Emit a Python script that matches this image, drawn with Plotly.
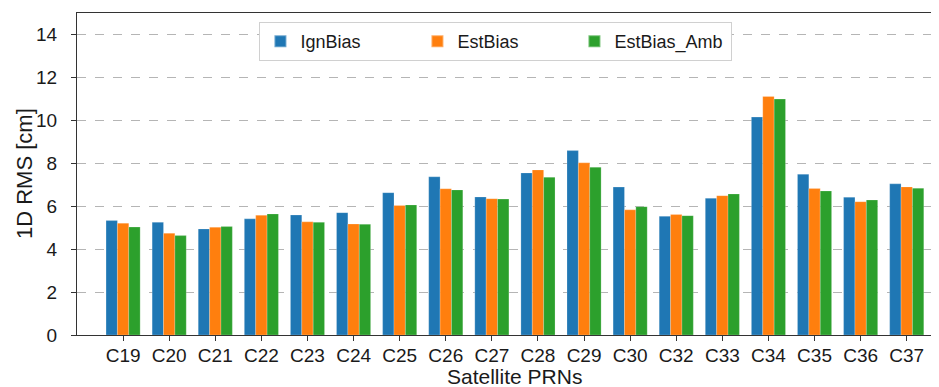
import plotly.graph_objects as go

categories = ["C19", "C20", "C21", "C22", "C23", "C24", "C25", "C26", "C27",
              "C28", "C29", "C30", "C32", "C33", "C34", "C35", "C36", "C37"]
ign_bias = [5.33, 5.25, 4.94, 5.41, 5.59, 5.70, 6.63, 7.37, 6.43,
            7.55, 8.59, 6.89, 5.53, 6.37, 10.15, 7.49, 6.42, 7.04]
est_bias = [5.21, 4.74, 5.02, 5.58, 5.27, 5.17, 6.03, 6.81, 6.35,
            7.69, 8.02, 5.83, 5.61, 6.49, 11.11, 6.82, 6.21, 6.90]
est_bias_amb = [5.03, 4.63, 5.05, 5.64, 5.25, 5.16, 6.06, 6.76, 6.33,
                7.35, 7.82, 5.98, 5.56, 6.57, 10.99, 6.71, 6.29, 6.84]
series_names = ["IgnBias", "EstBias", "EstBias_Amb"]
colors = ["#1f77b4", "#ff7f0e", "#2ca02c"]
x_title = "Satellite PRNs"
y_title = "1D RMS [cm]"

FONT = "Liberation Sans, Arial, sans-serif"
TXT = "#1a1a1a"

fig = go.Figure()
for name, vals, col in zip(series_names, [ign_bias, est_bias, est_bias_amb], colors):
    fig.add_trace(go.Bar(
        x=list(range(len(categories))), y=vals, name=name,
        marker=dict(color=col, line=dict(color="rgba(255,255,255,0.35)", width=0.6)),
    ))

# page body has an 8px default margin, so the figure is shrunk by 8px
fig.update_layout(
    width=931, height=379,
    margin=dict(l=69, r=0, t=5, b=52, autoexpand=False),
    paper_bgcolor="white", plot_bgcolor="white",
    barmode="group", bargap=0.26, bargroupgap=0,
    font=dict(family=FONT, size=18, color=TXT),
    legend=dict(
        orientation="h", x=0.486, xanchor="center", y=0.972, yanchor="top",
        bgcolor="white", bordercolor="#d0d0d0", borderwidth=1,
        font=dict(size=18, family=FONT, color=TXT),
        entrywidth=112, entrywidthmode="pixels",
        itemwidth=30, itemsizing="constant",
        tracegroupgap=0,
    ),
    showlegend=True,
    annotations=[
        dict(text=x_title, xref="paper", yref="paper", x=0.508, y=-0.128,
             xanchor="center", yanchor="middle", showarrow=False,
             font=dict(size=21, family=FONT, color=TXT)),
        dict(text=y_title, xref="paper", yref="paper", x=-0.0615, y=0.503,
             xanchor="center", yanchor="middle", showarrow=False, textangle=-90,
             font=dict(size=22, family=FONT, color=TXT)),
    ],
)

fig.update_xaxes(
    range=[-1, 17.7], automargin=False,
    tickmode="array", tickvals=list(range(len(categories))), ticktext=categories,
    ticks="outside", ticklen=5, tickwidth=1, tickcolor="#333",
    ticklabelstandoff=-2,
    showline=True, linecolor="#333", linewidth=1.2, mirror=True,
    showgrid=False, zeroline=False,
    tickfont=dict(size=19, family=FONT, color=TXT),
)
fig.update_yaxes(
    range=[0, 15], automargin=False,
    tickmode="array", tickvals=list(range(0, 15, 2)),
    ticks="outside", ticklen=5, tickwidth=1, tickcolor="#333",
    ticklabelstandoff=10,
    showline=True, linecolor="#333", linewidth=1.2, mirror=False,
    showgrid=True, gridcolor="#b5b5b5", griddash="dash", gridwidth=1,
    zeroline=False,
    tickfont=dict(size=19, family=FONT, color=TXT),
)

fig.write_html("out.html")
